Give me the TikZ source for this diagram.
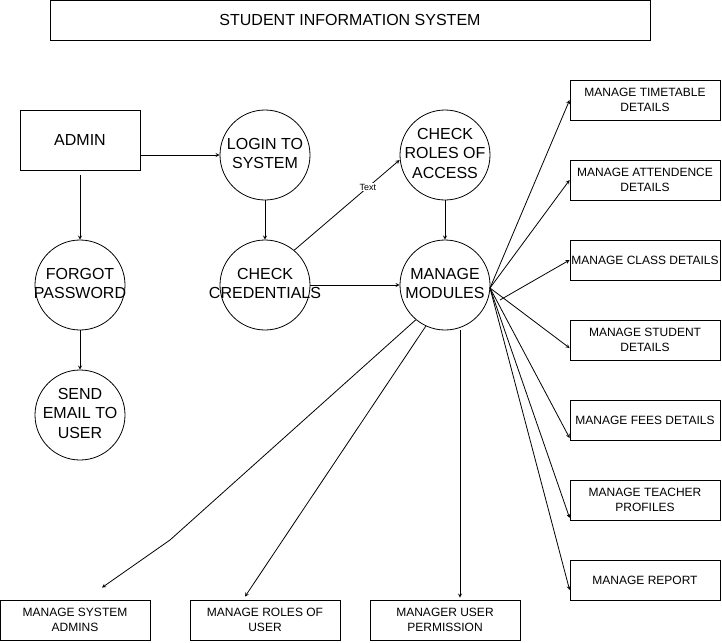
\documentclass[tikz,border=0pt]{standalone}
\usepackage{fontspec}
\setmainfont{Liberation Sans}
\usetikzlibrary{arrows}
\usetikzlibrary{calc}
\newcommand{\fitin}[1]{\makebox[0pt]{\begin{tabular}{@{}c@{}}#1\end{tabular}}}
\tikzstyle{heading} = [rectangle, minimum width = 600pt, minimum height=40pt, text centered, draw = black, fill = white, font=\fontsize{16}{19}\selectfont]
\tikzstyle{actor} = [rectangle, minimum width = 120pt, minimum height=60pt, text centered, draw = black, fill = white, font=\fontsize{16}{19}\selectfont]
\tikzstyle{process} = [circle, minimum size = 90pt, inner sep=0pt, draw = black, fill = white, font=\fontsize{16}{19.5}\selectfont]
\tikzstyle{module} = [rectangle, minimum width = 150pt, minimum height=40pt, inner sep=1pt, align=center, draw = black, fill = white, font=\fontsize{12}{15}\selectfont]
\tikzstyle{arrow} = [->,>=stealth]

\begin{document}
\begin{tikzpicture}[x=1pt,y=-1pt,line width=0.8pt]
	\useasboundingbox (0,0) rectangle (722,642);
	%title and left part
	\node (SIS) [heading] at (350,20) {STUDENT INFORMATION SYSTEM};
	\node (ADM) [actor] at (80,140) {ADMIN};
	\node (LOG) [process] at (265,155) {\fitin{LOGIN TO\\SYSTEM}};
	\node (ROL) [process] at (445,155) {\fitin{CHECK\\ROLES OF\\ACCESS}};
	\node (FGT) [process] at (80,285) {\fitin{FORGOT\\PASSWORD}};
	\node (CRD) [process] at (265,285) {\fitin{CHECK\\CREDENTIALS}};
	\node (MOD) [process] at (445,285) {\fitin{MANAGE\\MODULES}};
	\node (MAIL) [process] at (80,415) {\fitin{SEND\\EMAIL TO\\USER}};
	%modules on the right
	\node (TT) [module] at (645,100) {MANAGE TIMETABLE\\DETAILS};
	\node (ATT) [module] at (645,180) {MANAGE ATTENDENCE\\DETAILS};
	\node (CLS) [module] at (645,260) {MANAGE CLASS DETAILS};
	\node (STU) [module] at (645,340) {MANAGE STUDENT\\DETAILS};
	\node (FEE) [module] at (645,420) {MANAGE FEES DETAILS};
	\node (TCH) [module] at (645,500) {MANAGE TEACHER\\PROFILES};
	\node (REP) [module] at (645,580) {MANAGE REPORT};
	%modules at the bottom
	\node (SYA) [module] at (75,620) {MANAGE SYSTEM\\ADMINS};
	\node (RUS) [module] at (265,620) {MANAGE ROLES OF\\USER};
	\node (PRM) [module] at (445,620) {MANAGER USER\\PERMISSION};
	\coordinate (hub) at (490,288);
	\coordinate (hubb) at (500,300);
	\coordinate (bend) at (170,540);
	\draw [arrow]([yshift=-15pt]ADM.east) -- (LOG.west);
	\draw [arrow]([yshift=-5pt]ADM.south) -- (FGT.north);
	\draw [arrow](LOG) -- (CRD);
	\draw [arrow](FGT) -- (MAIL);
	\draw [arrow](CRD.50) -- node[pos=0.7,fill=white,inner sep=1pt,font=\fontsize{9}{10}\selectfont] {Text} ([yshift=-5pt]ROL.west);
	\draw [arrow](CRD) -- (MOD);
	\draw [arrow](ROL) -- (MOD);
	\draw [arrow](hub) -- (TT.west);
	\draw [arrow](hub) -- (ATT.west);
	\draw [arrow](hubb) -- (CLS.west);
	\draw [arrow](hub) -- ([yshift=-8pt]STU.west);
	\draw [arrow](hub) -- ([yshift=-18pt]FEE.west);
	\draw [arrow](hub) -- ([yshift=-18pt]TCH.west);
	\draw [arrow](hub) -- ([yshift=-10pt]REP.west);
	\draw [arrow](MOD.230) -- (bend) -- ([xshift=27pt,yshift=12pt]SYA.north);
	\draw [arrow](MOD.245) -- ([xshift=-20pt,yshift=3pt]RUS.north);
	\draw [arrow](MOD.south -| PRM.north) ++(15pt,0) -- ([xshift=15pt,yshift=2pt]PRM.north);
\end{tikzpicture}
\end{document}
